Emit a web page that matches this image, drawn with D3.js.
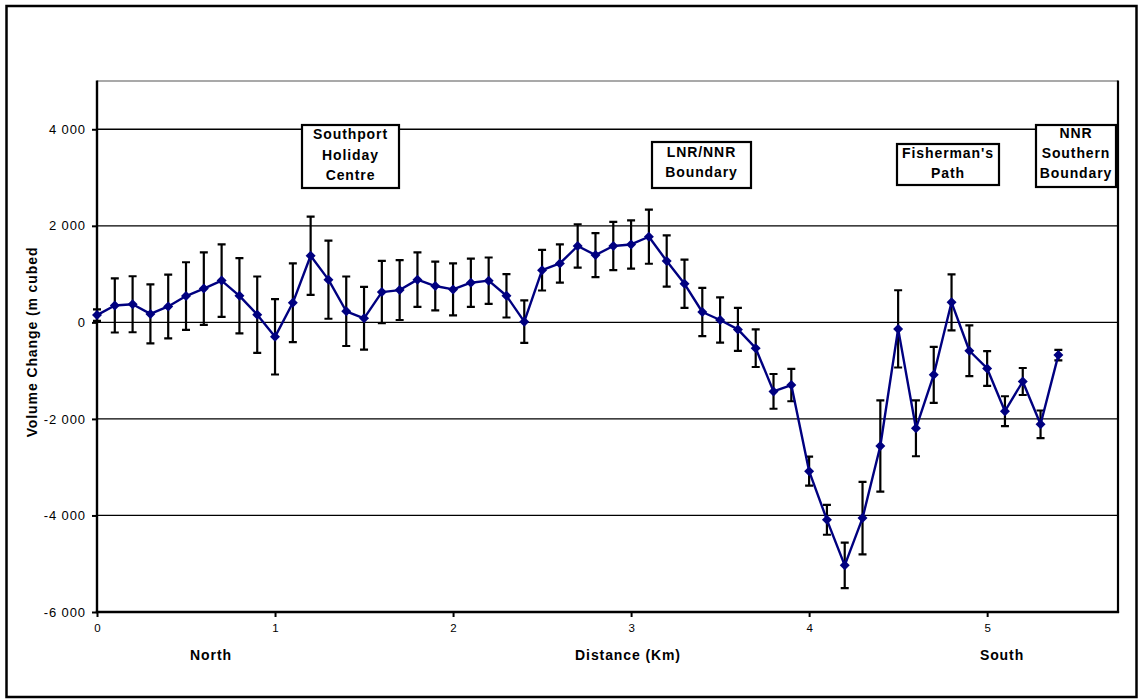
<!DOCTYPE html>
<html>
<head>
<meta charset="utf-8">
<script src="https://cdn.jsdelivr.net/npm/d3@7"></script>
<style>
  html, body { margin: 0; padding: 0; background: #fff; }
  svg { display: block; }
  text { font-family: "Liberation Sans", Arial, sans-serif; fill: #000; }
</style>
</head>
<body>
<svg id="chart" width="1142" height="699"></svg>
<script>
// Distance along the shore (km) for each survey profile
const distanceKm = [
  0.0, 0.1, 0.2, 0.3, 0.4, 0.5, 0.6, 0.7, 0.8, 0.9,
  1.0, 1.1, 1.2, 1.3, 1.4, 1.5, 1.6, 1.7, 1.8, 1.9,
  2.0, 2.1, 2.2, 2.3, 2.4, 2.5, 2.6, 2.7, 2.8, 2.9,
  3.0, 3.1, 3.2, 3.3, 3.4, 3.5, 3.6, 3.7, 3.8, 3.9,
  4.0, 4.1, 4.2, 4.3, 4.4, 4.5, 4.6, 4.7, 4.8, 4.9,
  5.0, 5.1, 5.2, 5.3, 5.4
];

// Volume change (m³) at each profile
const volumeChange = [
  150, 350, 375, 175, 330, 545, 700, 865, 550, 160,
  -300, 405, 1380, 885, 230, 84, 627, 669, 885, 753,
  683, 822, 864, 551, 14, 1080, 1220, 1582, 1394, 1582,
  1614, 1774, 1271, 799, 215, 49, -146, -535, -1430, -1299,
  -3083, -4090, -5034, -4055, -2562, -135, -2194, -1086, 415, -588,
  -955, -1841, -1225, -2111, -678
];

// Error (±) on each volume estimate
const volumeError = [
  120, 560, 580, 610, 660, 700, 750, 750, 780, 790,
  780, 815, 810, 810, 720, 650, 645, 620, 565, 505,
  537, 500, 480, 450, 440, 420, 395, 450, 455, 500,
  500, 560, 530, 500, 500, 470, 445, 390, 360, 335,
  300, 310, 470, 750, 945, 800, 580, 580, 580, 525,
  360, 310, 280, 285, 110
];

const xTicks = [0, 1, 2, 3, 4, 5];
const yTicks = [-6000, -4000, -2000, 0, 2000, 4000];
const yGridValues = [-4000, -2000, 0, 2000, 4000];

const landmarkLabels = [
  ["Southport", "Holiday", "Centre"],
  ["LNR/NNR", "Boundary"],
  ["Fisherman's", "Path"],
  ["NNR", "Southern", "Boundary"]
];

const xAxisTitle = "Distance (Km)";
const yAxisTitle = "Volume Change (m cubed";
const northLabel = "North";
const southLabel = "South";

// ---- layout ----
const plot = { left: 97, right: 1118, top: 81, bottom: 612 };
const landmarkBoxes = [
  { x0: 302, x1: 399, y0: 125, y1: 188, baselines: [139, 160, 180] },
  { x0: 652, x1: 751, y0: 142, y1: 188, baselines: [157, 177] },
  { x0: 897, x1: 999, y0: 144, y1: 185, baselines: [158, 178] },
  { x0: 1036, x1: 1116, y0: 125, y1: 187, baselines: [138, 158, 178] }
];

const svg = d3.select("#chart");

const x = d3.scaleLinear().domain([0, 5.735]).range([plot.left, plot.right]);
const y = d3.scaleLinear().domain([-6000, 5000]).range([plot.bottom, plot.top]);

const loc = d3.formatLocale({ decimal: ".", thousands: " ", grouping: [3], currency: ["", ""], minus: "-" });
const yFmt = loc.format(",d");

// outer frame
svg.append("rect")
  .attr("x", 6.5).attr("y", 6).attr("width", 1130).attr("height", 691)
  .attr("fill", "#fff").attr("stroke", "#000").attr("stroke-width", 2.5);

// horizontal gridlines
svg.append("g").selectAll("line").data(yGridValues).join("line")
  .attr("x1", plot.left).attr("x2", plot.right)
  .attr("y1", d => y(d)).attr("y2", d => y(d))
  .attr("stroke", "#000").attr("stroke-width", 1.3);

// plot-area border (top grey, right black)
svg.append("line")
  .attr("x1", plot.left).attr("x2", plot.right)
  .attr("y1", plot.top).attr("y2", plot.top)
  .attr("stroke", "#8c8c8c").attr("stroke-width", 1.3);
svg.append("line")
  .attr("x1", plot.right).attr("x2", plot.right)
  .attr("y1", plot.top - 0.6).attr("y2", plot.bottom + 1)
  .attr("stroke", "#000").attr("stroke-width", 2.2);

// y axis
const yAxis = d3.axisLeft(y).tickValues(yTicks).tickFormat(yFmt).tickSize(5).tickPadding(6);
const gy = svg.append("g").attr("transform", `translate(${plot.left},0)`).call(yAxis);
gy.select(".domain").remove();
gy.selectAll(".tick line").attr("stroke", "#000").attr("stroke-width", 2);
gy.selectAll(".tick text")
  .attr("font-family", "Liberation Sans, Arial, sans-serif")
  .attr("font-size", 13).attr("letter-spacing", "0.9px").attr("fill", "#000");
svg.append("line")
  .attr("x1", plot.left).attr("x2", plot.left)
  .attr("y1", plot.top - 0.6).attr("y2", plot.bottom + 1)
  .attr("stroke", "#000").attr("stroke-width", 2.4);

// x axis
const xAxis = d3.axisBottom(x).tickValues(xTicks).tickFormat(d3.format("d")).tickSize(5).tickPadding(7);
const gx = svg.append("g").attr("transform", `translate(0,${plot.bottom})`).call(xAxis);
gx.select(".domain").remove();
gx.selectAll(".tick line").attr("stroke", "#000").attr("stroke-width", 2);
gx.selectAll(".tick text")
  .attr("font-family", "Liberation Sans, Arial, sans-serif")
  .attr("font-size", 11.5).attr("fill", "#000");
svg.append("line")
  .attr("x1", plot.left - 1.2).attr("x2", plot.right + 1.1)
  .attr("y1", plot.bottom).attr("y2", plot.bottom)
  .attr("stroke", "#000").attr("stroke-width", 2.4);

// error bars
const pts = distanceKm.map((d, i) => ({ d, v: volumeChange[i], e: volumeError[i] }));
const capHalf = 4;
const eb = svg.append("g").attr("stroke", "#000").attr("stroke-width", 2.2).attr("fill", "none");
eb.selectAll("path").data(pts).join("path")
  .attr("d", p => {
    const cx = x(p.d), yt = y(p.v + p.e), yb = y(p.v - p.e);
    return `M${cx},${yt}V${yb}M${cx - capHalf},${yt}H${cx + capHalf}M${cx - capHalf},${yb}H${cx + capHalf}`;
  });

// series line
const line = d3.line().x(p => x(p.d)).y(p => y(p.v));
svg.append("path").datum(pts)
  .attr("d", line).attr("fill", "none")
  .attr("stroke", "#000080").attr("stroke-width", 2.4).attr("stroke-linejoin", "round");

// diamond markers
const diamond = d3.symbol().type(d3.symbolSquare).size(50);
svg.append("g").selectAll("path").data(pts).join("path")
  .attr("d", diamond)
  .attr("transform", p => `translate(${x(p.d)},${y(p.v)}) rotate(45)`)
  .attr("fill", "#000080");

// landmark boxes
const defs = svg.append("defs");
landmarkBoxes.forEach((b, i) => {
  defs.append("clipPath").attr("id", "clip" + i)
    .append("rect").attr("x", b.x0).attr("y", b.y0).attr("width", b.x1 - b.x0).attr("height", b.y1 - b.y0);
  const g = svg.append("g");
  g.append("rect")
    .attr("x", b.x0).attr("y", b.y0).attr("width", b.x1 - b.x0).attr("height", b.y1 - b.y0)
    .attr("fill", "#fff").attr("stroke", "#000").attr("stroke-width", 2.2);
  const cx = (b.x0 + b.x1) / 2;
  g.append("g").attr("clip-path", `url(#clip${i})`)
    .selectAll("text").data(landmarkLabels[i]).join("text")
    .attr("x", cx).attr("y", (t, j) => b.baselines[j])
    .attr("text-anchor", "middle").attr("font-weight", "bold")
    .attr("font-size", 14).attr("letter-spacing", "0.9px")
    .text(t => t);
});

// axis titles
const titleStyle = sel => sel.attr("font-weight", "bold").attr("font-size", 14).attr("letter-spacing", "0.9px");
svg.append("text").attr("x", 211).attr("y", 660).attr("text-anchor", "middle").call(titleStyle).text(northLabel);
svg.append("text").attr("x", 628).attr("y", 660).attr("text-anchor", "middle").call(titleStyle).text(xAxisTitle);
svg.append("text").attr("x", 1002).attr("y", 660).attr("text-anchor", "middle").call(titleStyle).text(southLabel);
svg.append("text")
  .attr("transform", "translate(37,342) rotate(-90)")
  .attr("text-anchor", "middle").call(titleStyle).text(yAxisTitle);
</script>
</body>
</html>
